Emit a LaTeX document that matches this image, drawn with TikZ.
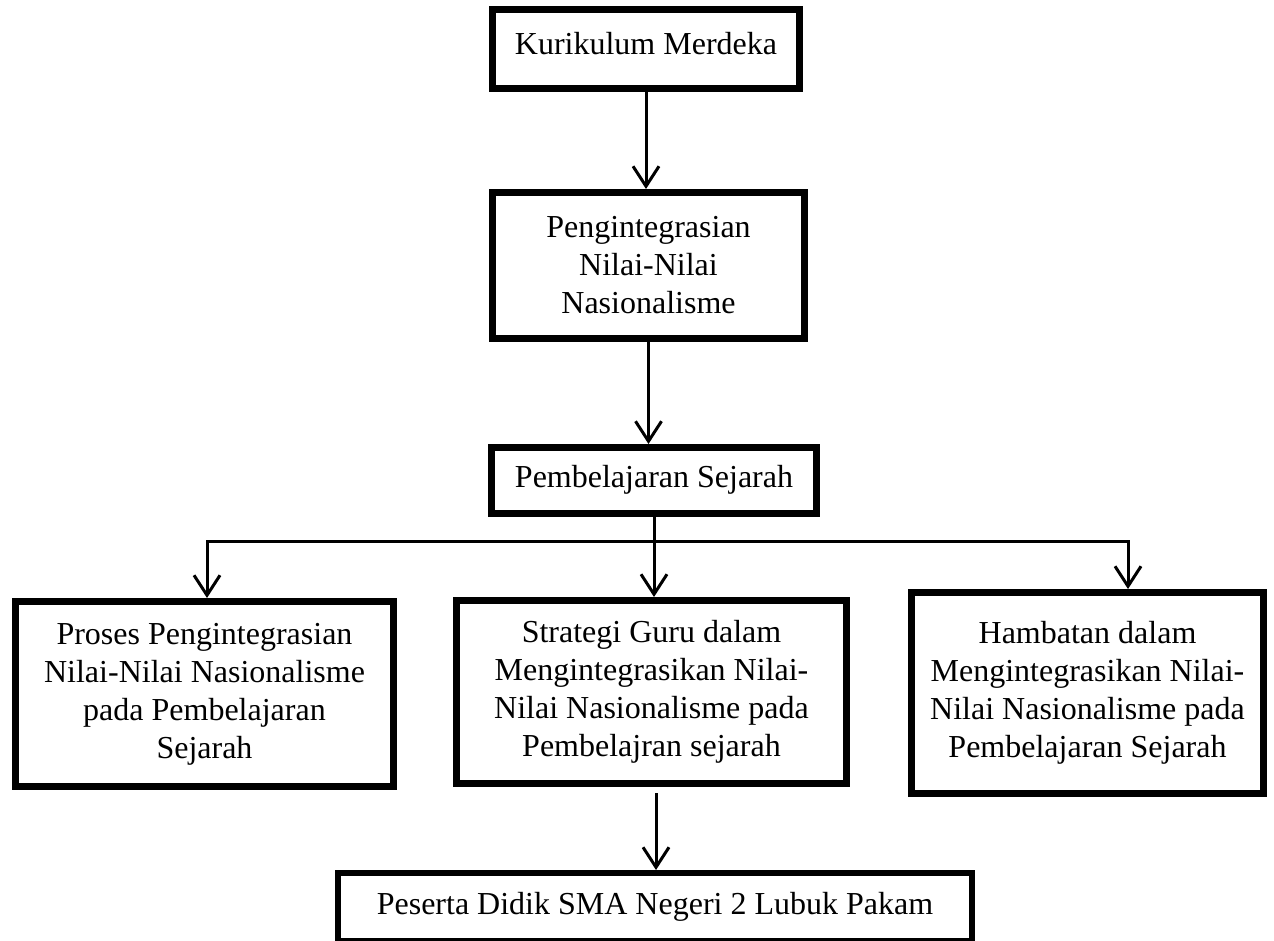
\documentclass[tikz,border=0pt]{standalone}
\usepackage{fontspec}
\setmainfont{Liberation Serif}
\usetikzlibrary{arrows.meta,calc}
\begin{document}
\begin{tikzpicture}[x=1pt,y=-1pt,
  box/.style={draw,line width=7pt,rectangle,inner sep=0pt,align=center,
    font=\fontsize{32}{38}\selectfont},
  arr/.style={line width=3pt,-{Straight Barb[length=20pt,width=26pt]}},
  conn/.style={line width=3pt,line cap=rect}]
\useasboundingbox (0,0) rectangle (1274,941);
\clip (0,0) rectangle (1274,941);

\node[box,minimum width=307pt,minimum height=79pt,text depth=12pt] (b1) at (646,49) {Kurikulum Merdeka};
\node[box,minimum width=312pt,minimum height=146pt] (b2) at (648.5,265.5) {Pengintegrasian\\Nilai-Nilai\\Nasionalisme};
\node[box,minimum width=325pt,minimum height=66pt,text depth=8pt] (b3) at (654,480.5) {Pembelajaran Sejarah};
\node[box,minimum width=378pt,minimum height=185pt] (lb) at (204.5,694) {Proses Pengintegrasian\\Nilai-Nilai Nasionalisme\\pada Pembelajaran\\Sejarah};
\node[box,minimum width=390pt,minimum height=183pt] (mb) at (651.5,692) {Strategi Guru dalam\\Mengintegrasikan Nilai-\\Nilai Nasionalisme pada\\Pembelajran sejarah};
\node[box,minimum width=352pt,minimum height=201pt] (rb) at (1087.5,693) {Hambatan dalam\\Mengintegrasikan Nilai-\\Nilai Nasionalisme pada\\Pembelajaran Sejarah};
\node[box,line width=6pt,minimum width=634pt,minimum height=68pt] (bt) at (655,907) {Peserta Didik SMA Negeri 2 Lubuk Pakam};

\draw[arr] (b1.south) -- (b1.south |- b2.north);
\draw[arr] (b2.south) -- (b2.south |- b3.north);
\draw[arr] (b3.south) -- (b3.south |- mb.north);

\coordinate (lj) at (207,541);
\coordinate (rj) at (1128,541);
\draw[conn] (lj) -- (rj);
\draw[arr] (lj) -- (lj |- lb.north);
\draw[arr] (rj) -- (rj |- rb.north);

\coordinate (ms) at ($(mb.south)+(4.5,6)$);
\draw[arr] (ms) -- (ms |- bt.north);
\end{tikzpicture}
\end{document}
